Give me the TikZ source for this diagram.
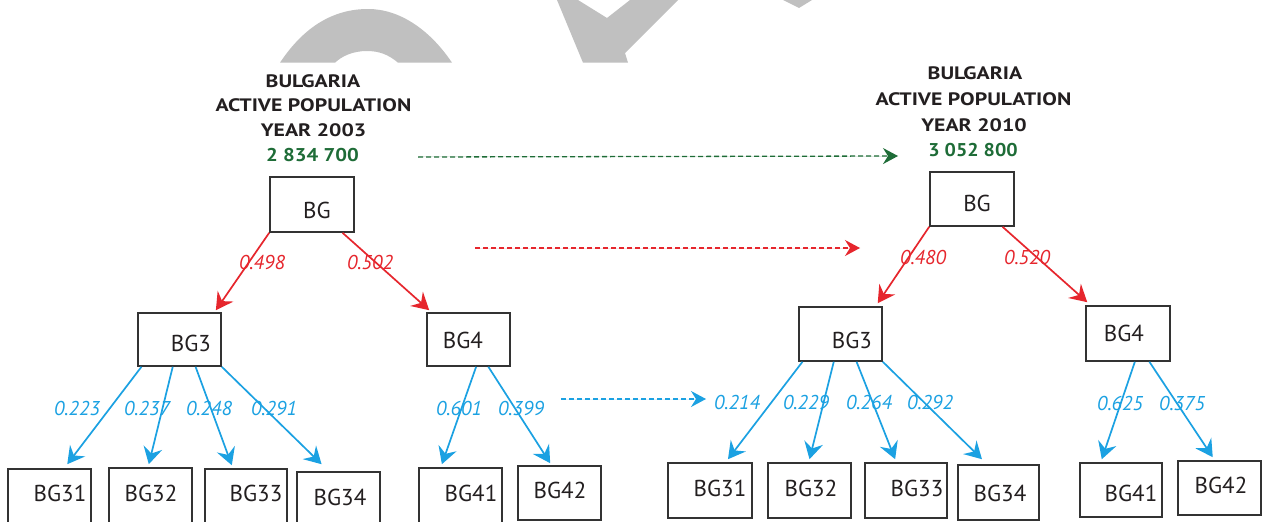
\documentclass[tikz,border=0pt]{standalone}
\usepackage{fontspec}
\setmainfont{PT Sans}
\usetikzlibrary{arrows.meta,calc}
\definecolor{arrred}{RGB}{230,38,45}
\definecolor{arrblue}{RGB}{27,161,226}
\definecolor{popgreen}{RGB}{30,108,55}
\definecolor{boxgrey}{RGB}{51,51,51}
\definecolor{ink}{RGB}{35,31,32}
\definecolor{wmark}{RGB}{192,192,192}
\newcommand{\wide}[2]{\scalebox{#1}[1]{#2}}
\tikzset{
  box/.style={draw=boxgrey, line width=1.6pt, inner sep=0pt, minimum width=83pt, minimum height=54pt},
  boxtext/.style={font=\fontsize{23}{23}\selectfont, text=ink, inner sep=0pt},
  head/.style={font=\bfseries\fontsize{18}{20}\selectfont, text=ink, inner sep=0pt},
  popnum/.style={font=\bfseries\fontsize{18.5}{20}\selectfont, text=popgreen, inner sep=0pt},
  share/.style={font=\itshape\fontsize{20}{20}\selectfont, inner sep=0pt},
  redshare/.style={share, text=arrred},
  blueshare/.style={share, text=arrblue},
  link/.style={line width=1.7pt, -{Stealth[length=17pt,width=19pt,inset=6pt]}},
  redlink/.style={link, draw=arrred, fill=arrred},
  bluelink/.style={link, draw=arrblue, fill=arrblue},
  trend/.style={line width=1.3pt, dash pattern=on 5pt off 3pt, -{Stealth[length=15pt,width=16pt,inset=5pt]}}
}
\begin{document}
\begin{tikzpicture}[x=1pt,y=-1pt]
\useasboundingbox (0,0) rectangle (1264,522);
\fill[white] (0,0) rectangle (1264,522);

% grey lettering along the top edge
\begin{scope}
\clip (0,0) rectangle (1264,62.7);
\fill[wmark] (280,62.7) .. controls (305,25) and (335,9) .. (368,9)
  .. controls (400,9) and (430,30) .. (452,62.7) -- (398,62.7)
  .. controls (388,54) and (378,51) .. (367,51)
  .. controls (353,51) and (342,56) .. (335,62.7) -- cycle;
\fill[wmark] (557,0) -- (583,62.7) -- (628,62.7) -- (625,53) -- (678,0)
  -- (630,0) -- (607,18) -- (578,0) -- cycle;
\fill[wmark] (783,0) -- (799,8) -- (812,0) -- cycle;
\end{scope}

% ---------------- 2003 ----------------
\node[head] (h03a) at (313,81) {\wide{1.21}{BULGARIA}};
\node[head] (h03b) at (313.5,105) {\wide{1.21}{ACTIVE POPULATION}};
\node[head] (h03c) at (313.5,130) {\wide{1.21}{YEAR 2003}};
\node[popnum] (p03) at (312.5,155) {\wide{1.12}{2 834 700}};

\node[box, minimum width=84pt, minimum height=55pt] (lBG) at (312,204.5) {};
\node[boxtext] (lBGt) at (317,210) {BG};
\node[box, minimum height=53pt] (lBG3) at (179.5,339.5) {};
\node[boxtext] (lBG3t) at (191,343) {BG3};
\node[box, minimum height=53pt] (lBG4) at (468.5,339.5) {};
\node[boxtext] (lBG4t) at (463,340) {BG4};

\node[box, minimum height=55pt] (lBG31) at (49.5,496.5) {};
\node[boxtext] (lBG31t) at (60,493) {BG31};
\node[box, minimum height=55pt] (lBG32) at (150.5,495.5) {};
\node[boxtext] (lBG32t) at (151,493) {BG32};
\node[box, minimum width=82pt, minimum height=55pt] (lBG33) at (246,496.5) {};
\node[boxtext] (lBG33t) at (256,493) {BG33};
\node[box, minimum height=55pt] (lBG34) at (338.5,499.5) {};
\node[boxtext] (lBG34t) at (340,497) {BG34};
\node[box, minimum height=55pt] (lBG41) at (460.5,495.5) {};
\node[boxtext] (lBG41t) at (471,493) {BG41};
\node[box, minimum height=54pt] (lBG42) at (559.5,493) {};
\node[boxtext] (lBG42t) at (560,490) {BG42};

\draw[redlink] (lBG.south west) -- ($(lBG3.north west)!0.93!(lBG3.north east)+(0,-2)$);
\draw[redlink] ($(lBG.south west)!0.857!(lBG.south east)$) -- ($(lBG4.north west)!0.036!(lBG4.north east)+(0,-2)$);
\node[redshare] (s03a) at (262,262) {0.498};
\node[redshare] (s03b) at (370,262) {0.502};

\draw[bluelink] ($(lBG3.south west)!0.05!(lBG3.south east)$) -- ($(lBG31.north west)!0.71!(lBG31.north east)+(0,-4)$);
\draw[bluelink] ($(lBG3.south west)!0.42!(lBG3.south east)$) -- ($(lBG32.north west)!0.48!(lBG32.north east)+(0,-3)$);
\draw[bluelink] ($(lBG3.south west)!0.69!(lBG3.south east)$) -- ($(lBG33.north west)!0.33!(lBG33.north east)+(0,-3)$);
\draw[bluelink] (lBG3.south east) -- ($(lBG34.north west)!0.30!(lBG34.north east)+(0,-7)$);
\draw[bluelink] ($(lBG4.south west)!0.59!(lBG4.south east)$) -- ($(lBG41.north west)!0.28!(lBG41.north east)+(0,-3)$);
\draw[bluelink] ($(lBG4.south west)!0.735!(lBG4.south east)$) -- ($(lBG42.north west)!0.39!(lBG42.north east)+(0,-2)$);
\node[blueshare] (s03c) at (77,408) {0.223};
\node[blueshare] (s03d) at (147,408) {0.237};
\node[blueshare] (s03e) at (209,408) {0.248};
\node[blueshare] (s03f) at (274,408) {0.291};
\node[blueshare] (s03g) at (459,408) {0.601};
\node[blueshare] (s03h) at (521,408) {0.399};

% ---------------- 2010 ----------------
\node[head] (h10a) at (975,73) {\wide{1.21}{BULGARIA}};
\node[head] (h10b) at (973.5,99) {\wide{1.21}{ACTIVE POPULATION}};
\node[head] (h10c) at (974,125) {\wide{1.21}{YEAR 2010}};
\node[popnum] (p10) at (973,150) {\wide{1.08}{3 052 800}};

\node[box, minimum width=84pt, minimum height=54pt] (rBG) at (972,199) {};
\node[boxtext] (rBGt) at (977,203) {BG};
\node[box] (rBG3) at (840.5,334) {};
\node[boxtext] (rBG3t) at (852,340) {BG3};
\node[box, minimum width=84pt, minimum height=55pt] (rBG4) at (1128,333.5) {};
\node[boxtext] (rBG4t) at (1124,333) {BG4};

\node[box, minimum width=84pt, minimum height=55pt] (rBG31) at (710,490.5) {};
\node[boxtext] (rBG31t) at (720,488) {BG31};
\node[box, minimum height=55pt] (rBG32) at (809.5,490.5) {};
\node[boxtext] (rBG32t) at (811,488) {BG32};
\node[box, minimum width=82pt, minimum height=55pt] (rBG33) at (906,490.5) {};
\node[boxtext] (rBG33t) at (917,488) {BG33};
\node[box, minimum width=81pt, minimum height=55pt] (rBG34) at (998.5,492.5) {};
\node[boxtext] (rBG34t) at (1000,493) {BG34};
\node[box, minimum width=82pt] (rBG41) at (1121,490) {};
\node[boxtext] (rBG41t) at (1131,493) {BG41};
\node[box] (rBG42) at (1219.5,488) {};
\node[boxtext] (rBG42t) at (1221,485) {BG42};

\draw[redlink] (rBG.south west) -- ($(rBG3.north west)!0.94!(rBG3.north east)+(0,-3)$);
\draw[redlink] ($(rBG.south west)!0.857!(rBG.south east)$) -- ($(rBG4.north west)!0.024!(rBG4.north east)+(0,-3)$);
\node[redshare] (s10a) at (923,257) {0.480};
\node[redshare] (s10b) at (1027,257) {0.520};

\draw[bluelink] ($(rBG3.south west)!0.05!(rBG3.south east)$) -- ($(rBG31.north west)!0.71!(rBG31.north east)+(0,-3)$);
\draw[bluelink] ($(rBG3.south west)!0.42!(rBG3.south east)$) -- ($(rBG32.north west)!0.5!(rBG32.north east)+(0,-3)$);
\draw[bluelink] ($(rBG3.south west)!0.69!(rBG3.south east)$) -- ($(rBG33.north west)!0.37!(rBG33.north east)+(0,-3)$);
\draw[bluelink] (rBG3.south east) -- ($(rBG34.north west)!0.30!(rBG34.north east)+(0,-5)$);
\draw[bluelink] ($(rBG4.south west)!0.58!(rBG4.south east)$) -- ($(rBG41.north west)!0.27!(rBG41.north east)+(0,-3)$);
\draw[bluelink] ($(rBG4.south west)!0.75!(rBG4.south east)$) -- ($(rBG42.north west)!0.42!(rBG42.north east)+(0,-3)$);
\node[blueshare] (s10c) at (737,402) {0.214};
\node[blueshare] (s10d) at (806,402) {0.229};
\node[blueshare] (s10e) at (869,402) {0.264};
\node[blueshare] (s10f) at (930,402) {0.292};
\node[blueshare] (s10g) at (1120,403) {0.625};
\node[blueshare] (s10h) at (1182,403) {0.375};

% ---------------- change between the years ----------------
\coordinate (gS) at (418,157);
\coordinate (gE) at (898,156);
\coordinate (rS) at (475,248);
\coordinate (rE) at (860,248);
\coordinate (bS) at (561,399);
\coordinate (bE) at (706,399);
\draw[trend, draw=popgreen, fill=popgreen] (gS) -- (gE);
\draw[trend, draw=arrred, fill=arrred] (rS) -- (rE);
\draw[trend, draw=arrblue, fill=arrblue] (bS) -- (bE);
\end{tikzpicture}
\end{document}
